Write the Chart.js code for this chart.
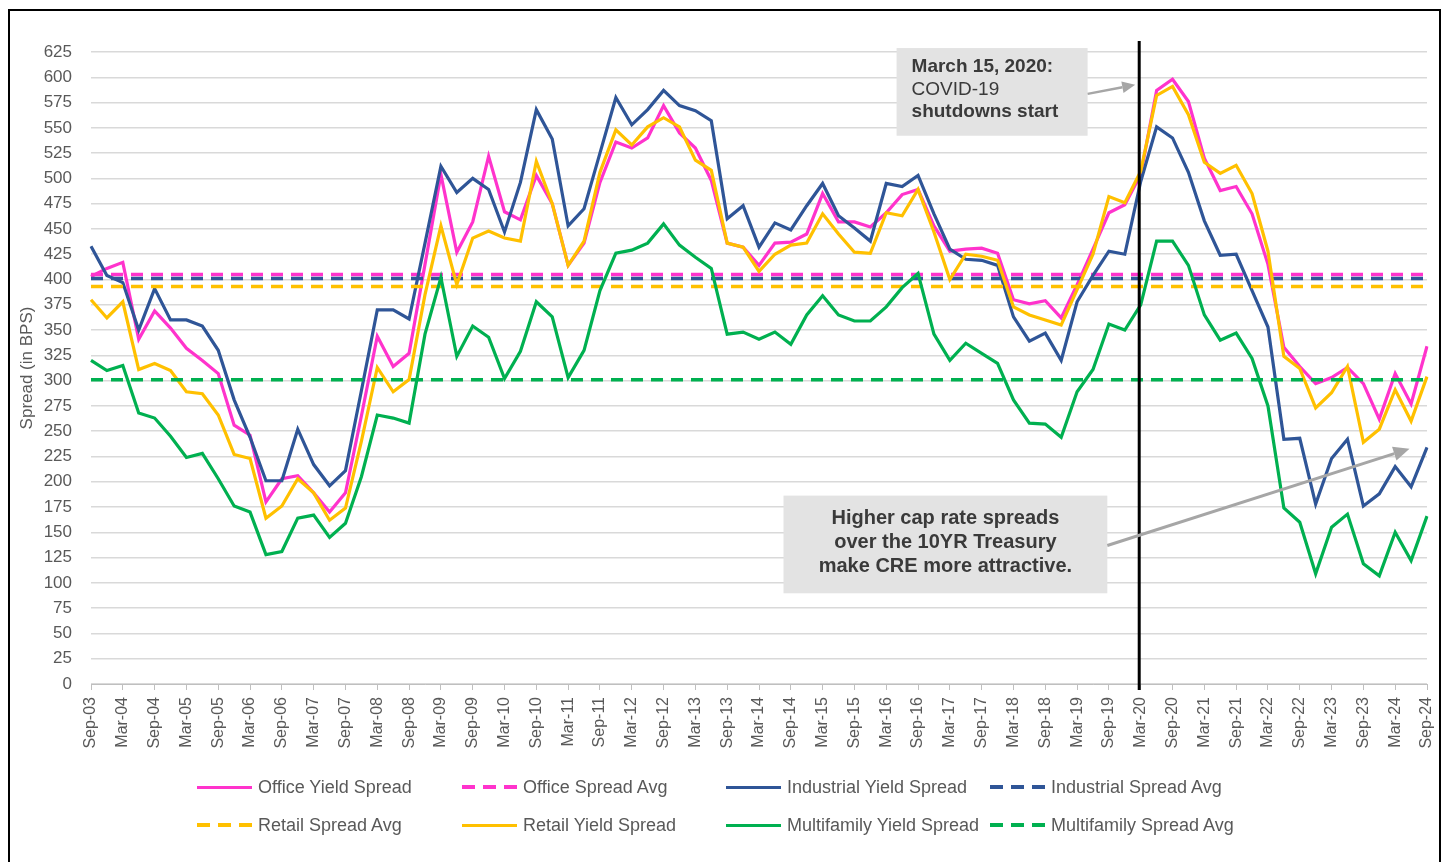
<!DOCTYPE html>
<html>
<head>
<meta charset="utf-8">
<script src="https://cdn.jsdelivr.net/npm/chart.js@4.4.1/dist/chart.umd.min.js"></script>
<style>
  html, body { margin: 0; padding: 0; background: #fff; overflow: hidden; }
  #wrap { position: absolute; left: 0; top: 0; width: 1448px; height: 862px; }
  #frame { position: absolute; left: 8px; top: 9px; width: 1433px; height: 900px; border: 2px solid #000; box-sizing: border-box; pointer-events: none; }
  #legend { position: absolute; left: 0; top: 0; width: 1448px; height: 862px; pointer-events: none;
            font-family: "Liberation Sans", Arial, sans-serif; font-size: 18px; color: #595959; }
  .li { position: absolute; height: 24px; display: flex; align-items: center; white-space: nowrap; }
  .sw { width: 55px; height: 3px; margin-right: 6px; }
</style>
</head>
<body>
<div id="wrap"><canvas id="c"></canvas></div>
<div id="legend"></div>
<div id="frame"></div>
<script>
const quarters = ['Sep-03','Dec-03','Mar-04','Jun-04','Sep-04','Dec-04','Mar-05','Jun-05','Sep-05','Dec-05','Mar-06','Jun-06','Sep-06','Dec-06','Mar-07','Jun-07','Sep-07','Dec-07','Mar-08','Jun-08','Sep-08','Dec-08','Mar-09','Jun-09','Sep-09','Dec-09','Mar-10','Jun-10','Sep-10','Dec-10','Mar-11','Jun-11','Sep-11','Dec-11','Mar-12','Jun-12','Sep-12','Dec-12','Mar-13','Jun-13','Sep-13','Dec-13','Mar-14','Jun-14','Sep-14','Dec-14','Mar-15','Jun-15','Sep-15','Dec-15','Mar-16','Jun-16','Sep-16','Dec-16','Mar-17','Jun-17','Sep-17','Dec-17','Mar-18','Jun-18','Sep-18','Dec-18','Mar-19','Jun-19','Sep-19','Dec-19','Mar-20','Jun-20','Sep-20','Dec-20','Mar-21','Jun-21','Sep-21','Dec-21','Mar-22','Jun-22','Sep-22','Dec-22','Mar-23','Jun-23','Sep-23','Dec-23','Mar-24','Jun-24','Sep-24'];

const officeSpread = [403,411,417,341,369,352,332,320,307,256,246,180,203,206,189,170,189,265,344,314,327,415,504,427,457,522,467,459,503,
  475,414,436,496,536,530,540,572,545,530,498,436,432,414,436,437,445,485,457,457,452,466,484,489,453,428,430,431,
  426,380,376,379,362,395,430,466,474,504,587,598,576,520,488,492,465,415,333,314,297,303,313,297,262,307,277,334];

const industrialSpread = [433,404,397,350,391,360,360,354,330,281,244,201,201,252,217,196,211,290,370,370,361,436,512,486,500,489,447,496,568,
  539,453,470,525,580,553,568,587,572,567,557,460,473,432,456,449,473,495,463,451,438,495,492,503,465,430,420,419,
  414,363,339,347,320,378,404,428,425,497,551,540,506,458,424,425,389,353,242,243,178,223,242,176,188,215,195,234];

const retailSpread = [380,362,378,311,317,310,289,287,266,227,223,164,176,203,189,162,174,240,313,289,301,385,453,395,441,448,441,438,517,
  475,414,438,506,548,533,551,560,551,518,508,436,432,408,425,434,436,465,445,427,426,466,463,489,447,400,425,423,
  419,373,365,360,355,390,425,482,476,507,582,591,563,516,505,513,485,428,324,312,273,288,314,239,252,291,260,304];

const multifamilySpread = [320,310,315,268,263,245,224,228,203,176,170,128,131,164,167,145,159,205,266,263,258,346,402,324,354,343,302,329,378,
  363,303,330,389,426,429,436,455,434,422,411,346,348,341,348,336,365,384,365,359,359,373,392,406,346,320,337,327,
  317,281,258,257,244,289,311,356,350,375,438,438,414,365,340,347,322,275,174,160,109,155,168,119,107,150,122,166];

const officeAvg = 405;
const industrialAvg = 401;
const retailAvg = 393;
const multifamilyAvg = 301;

const yTicks = { min: 0, max: 625, step: 25 };
const covidQuarter = 'Mar-20';

const C = { office: '#FF33CC', industrial: '#2F5597', retail: '#FFC000', multi: '#00B050' };
const DASH = [12, 8];

function solid(label, data, color) {
  return { label, data, borderColor: color, backgroundColor: color, borderWidth: 3.2, pointRadius: 0, tension: 0, fill: false, _dash: false };
}
function avg(label, value, color) {
  return { label, data: quarters.map(() => value), borderColor: color, backgroundColor: color, borderWidth: 3.5, borderDash: DASH, pointRadius: 0, fill: false, _dash: true };
}

const datasets = [
  solid('Office Yield Spread', officeSpread, C.office),
  avg('Office Spread Avg', officeAvg, C.office),
  solid('Industrial Yield Spread', industrialSpread, C.industrial),
  avg('Industrial Spread Avg', industrialAvg, C.industrial),
  avg('Retail Spread Avg', retailAvg, C.retail),
  solid('Retail Yield Spread', retailSpread, C.retail),
  solid('Multifamily Yield Spread', multifamilySpread, C.multi),
  avg('Multifamily Spread Avg', multifamilyAvg, C.multi)
];
datasets.forEach((d, i) => { d.order = datasets.length - i; });

function arrow(ctx, x1, y1, x2, y2, w, head) {
  const a = Math.atan2(y2 - y1, x2 - x1);
  const bx = x2 - head * Math.cos(a), by = y2 - head * Math.sin(a);
  ctx.beginPath();
  ctx.moveTo(x1, y1); ctx.lineTo(bx, by);
  ctx.lineWidth = w; ctx.stroke();
  ctx.beginPath();
  ctx.moveTo(x2, y2);
  ctx.lineTo(bx + head * 0.45 * Math.sin(a), by - head * 0.45 * Math.cos(a));
  ctx.lineTo(bx - head * 0.45 * Math.sin(a), by + head * 0.45 * Math.cos(a));
  ctx.closePath(); ctx.fill();
}

const annotationPlugin = {
  id: 'annot',
  afterDatasetsDraw(chart) {
    const ctx = chart.ctx, xs = chart.scales.x, ys = chart.scales.y, ca = chart.chartArea;
    ctx.save();
    const vx = xs.getPixelForValue(quarters.indexOf(covidQuarter)) - 1.5;
    ctx.strokeStyle = '#000'; ctx.lineWidth = 3;
    ctx.beginPath(); ctx.moveTo(vx, ca.top - 11); ctx.lineTo(vx, ca.bottom + 6); ctx.stroke();

    const px = i => xs.getPixelForValue(i);
    const py = v => ys.getPixelForValue(v);

    let x1 = px(50.65), x2 = px(62.66), y1 = py(628.9), y2 = py(542.2);
    ctx.fillStyle = '#e3e3e3';
    ctx.fillRect(x1, y1, x2 - x1, y2 - y1);
    ctx.fillStyle = '#3a3a3a'; ctx.textAlign = 'left'; ctx.textBaseline = 'middle';
    ctx.font = 'bold 19px "Liberation Sans", Arial, sans-serif';
    ctx.fillText('March 15, 2020:', x1 + 15, y1 + 19);
    ctx.font = '19px "Liberation Sans", Arial, sans-serif';
    ctx.fillText('COVID-19', x1 + 15, y1 + 42);
    ctx.font = 'bold 19px "Liberation Sans", Arial, sans-serif';
    ctx.fillText('shutdowns start', x1 + 15, y1 + 64);

    x1 = px(43.54); x2 = px(63.9); y1 = py(186.3); y2 = py(89.7);
    ctx.fillStyle = '#e3e3e3';
    ctx.fillRect(x1, y1, x2 - x1, y2 - y1);
    ctx.fillStyle = '#3a3a3a'; ctx.textAlign = 'center';
    ctx.font = 'bold 20px "Liberation Sans", Arial, sans-serif';
    const cx = (x1 + x2) / 2;
    ctx.fillText('Higher cap rate spreads', cx, y1 + 23);
    ctx.fillText('over the 10YR Treasury', cx, y1 + 47);
    ctx.fillText('make CRE more attractive.', cx, y1 + 71);

    ctx.strokeStyle = '#a6a6a6'; ctx.fillStyle = '#a6a6a6';
    arrow(ctx, px(62.66), py(583.6), vx - 4, py(592.5), 2.5, 13);
    arrow(ctx, px(63.9), py(137), px(82.9), py(232.6), 3, 16);
    ctx.restore();
  }
};

const chart = new Chart(document.getElementById('c'), {
  type: 'line',
  data: { labels: quarters, datasets },
  options: {
    responsive: true,
    maintainAspectRatio: false,
    animation: false,
    layout: { padding: { left: 10, right: 21, top: 52, bottom: 100 } },
    plugins: { legend: { display: false }, tooltip: { enabled: false } },
    scales: {
      x: {
        grid: { display: true, drawOnChartArea: false, drawTicks: true, tickLength: 6,
                tickColor: c => (c.index % 2 === 0 ? '#bfbfbf' : 'rgba(0,0,0,0)') },
        border: { display: true, color: '#bfbfbf', width: 1 },
        ticks: {
          autoSkip: false, maxRotation: 90, minRotation: 90, padding: 7,
          color: '#595959', font: { family: '"Liberation Sans", Arial, sans-serif', size: 16 },
          callback: function (v, i) { return i % 2 === 0 ? this.getLabelForValue(v) : ''; }
        },
        afterFit: s => { s.height = 78; s.paddingRight = 0; s.paddingLeft = 0; }
      },
      y: {
        min: yTicks.min, max: yTicks.max,
        grid: { color: '#d9d9d9', lineWidth: 1.5, drawTicks: false },
        border: { display: false },
        ticks: { stepSize: yTicks.step, padding: 19, color: '#595959',
                 font: { family: '"Liberation Sans", Arial, sans-serif', size: 17 } },
        title: { display: true, text: 'Spread (in BPS)', color: '#595959', padding: { top: 7, bottom: 4 },
                 font: { family: '"Liberation Sans", Arial, sans-serif', size: 17 } },
        afterFit: s => { s.width = 81; }
      }
    }
  },
  plugins: [annotationPlugin]
});

const legendCols = [197, 462, 726, 990];
const legendRows = [787, 825];
const lg = document.getElementById('legend');
chart.data.datasets.forEach((d, i) => {
  const item = document.createElement('div');
  item.className = 'li';
  item.style.left = legendCols[i % 4] + 'px';
  item.style.top = (legendRows[Math.floor(i / 4)] - 12) + 'px';
  const sw = document.createElement('div');
  sw.className = 'sw';
  if (d._dash) {
    sw.style.height = '4px';
    sw.style.background = `repeating-linear-gradient(to right, ${d.borderColor} 0 13px, transparent 13px 21px)`;
  } else {
    sw.style.background = d.borderColor;
  }
  const tx = document.createElement('span');
  tx.textContent = d.label;
  item.appendChild(sw); item.appendChild(tx);
  lg.appendChild(item);
});
</script>
</body>
</html>
